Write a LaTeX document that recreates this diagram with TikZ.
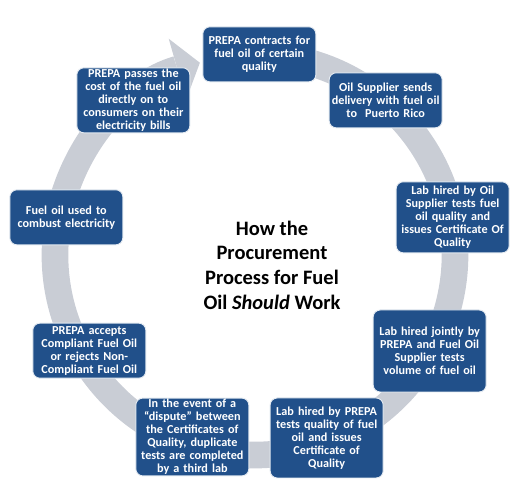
\documentclass[tikz,border=0pt]{standalone}
\usepackage{fontspec}
\setmainfont{Carlito}
\usetikzlibrary{arrows.meta}
\definecolor{cnavy}{HTML}{21508A}
\definecolor{cring}{HTML}{C9CDD5}
\tikzset{
  every picture/.style={font=\bfseries},
  stepbox/.style={fill=cnavy, draw=cnavy!12, line width=0.8pt, rounded corners=6pt, text=white, align=center, text width=3.25cm, minimum width=3.39cm, inner xsep=0.07cm, inner ysep=1pt, font=\bfseries\fontsize{10.4}{11.1}\selectfont},
  ring/.style={draw=cring, line width=0.8cm, -{Triangle[length=0.7cm, width=1.9cm, line width=0pt]}},
  title/.style={font=\bfseries\fontsize{17.5}{21}\selectfont, align=center},
}
\begin{document}
\begin{tikzpicture}
  \useasboundingbox (-7.65,-7.11) rectangle (8.16,7.65);
  % the cycle
  \draw[ring] (80:6) arc[start angle=80, end angle=-254, radius=6];
  \node[title] (head) at (0.51,-0.3) {How the\\Procurement\\Process for Fuel\\Oil \textit{Should} Work};
  % steps, clockwise from the top
  \node[stepbox, minimum height=1.65cm] (s1) at (0.13,6.02) {PREPA contracts for\\fuel oil of certain\\quality};
  \node[stepbox, minimum height=1.65cm] (s2) at (3.92,4.64) {Oil Supplier sends\\delivery with fuel oil\\to\ \ Puerto Rico};
  \node[stepbox, minimum height=2.13cm] (s3) at (5.93,1.13) {Lab hired by Oil\\Supplier tests fuel\\oil quality and\\issues Certificate Of\\Quality};
  \node[stepbox, minimum height=2.46cm] (s4) at (5.24,-2.88) {Lab hired jointly by\\PREPA and Fuel Oil\\Supplier tests\\volume of fuel oil};
  \node[stepbox, minimum height=2.4cm] (s5) at (2.15,-5.49) {Lab hired by PREPA\\tests quality of fuel\\oil and issues\\Certificate of\\Quality};
  \node[stepbox, minimum height=2.28cm] (s6) at (-1.88,-5.46) {In the event of a\\``dispute'' between\\the Certificates of\\Quality, duplicate\\tests are completed\\by a third lab};
  \node[stepbox, minimum height=1.65cm] (s7) at (-4.97,-2.87) {PREPA accepts\\Compliant Fuel Oil\\or rejects Non-\\Compliant Fuel Oil};
  \node[stepbox, minimum height=1.65cm] (s8) at (-5.66,1.13) {Fuel oil used to\\combust electricity};
  \node[stepbox, minimum height=1.95cm] (s9) at (-3.65,4.64) {PREPA passes the\\cost of the fuel oil\\directly on to\\consumers on their\\electricity bills};
\end{tikzpicture}
\end{document}
